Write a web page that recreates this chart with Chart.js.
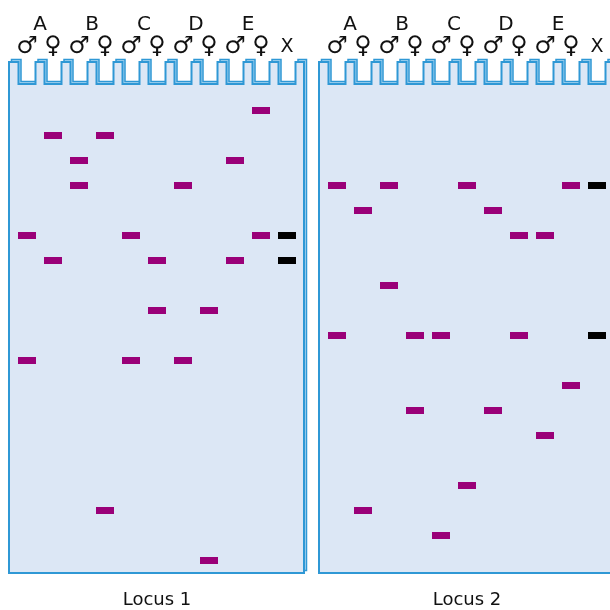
<!DOCTYPE html>
<html>
<head>
<meta charset="utf-8">
<script src="https://cdn.jsdelivr.net/npm/chart.js@4"></script>
<style>
    html, body { margin: 0; padding: 0; background: #fff; width: 610px; height: 610px; overflow: hidden; }
    canvas { position: absolute; top: 0; }
    #locus1 { left: 0; }
    #locus2 { left: 310px; }
</style>
</head>
<body>
<canvas id="locus1" width="310" height="610"></canvas>
<canvas id="locus2" width="310" height="610"></canvas>
<script>
// Lane labels (11 lanes: A-E male/female + marker X)
const laneSymbols = ['♂', '♀', '♂', '♀', '♂', '♀', '♂', '♀', '♂', '♀', 'X'];
const familyLetters = ['A', 'B', 'C', 'D', 'E'];

// Locus 1 bands: lane number and band row (0 = top of gel)
const locus1Lanes = [10, 2, 4, 3, 9, 3, 7, 1, 5, 10, 2, 6, 9, 6, 8, 1, 5, 7, 4, 8];
const locus1Rows  = [1, 2, 2, 3, 3, 4, 4, 6, 6, 6, 7, 7, 7, 9, 9, 11, 11, 11, 17, 19];
const locus1MarkerRows = [6, 7];

// Locus 2 bands
const locus2Lanes = [1, 3, 6, 10, 2, 7, 8, 9, 3, 1, 4, 5, 8, 10, 4, 7, 9, 6, 2, 5];
const locus2Rows  = [4, 4, 4, 4, 5, 5, 6, 6, 8, 10, 10, 10, 10, 12, 13, 13, 14, 16, 17, 18];
const locus2MarkerRows = [4, 10];

const markerLane = 11;

// Band shape used as point style
function bandImage(color) {
    const c = document.createElement('canvas');
    c.width = 18;
    c.height = 7;
    const g = c.getContext('2d');
    g.fillStyle = color;
    g.fillRect(0, 0, 18, 7);
    return c;
}

const purpleBand = bandImage('#9a0078');
const blackBand = bandImage('#000000');

// Gel outline with comb wells, drawn behind the bands
function gelPath(ctx, xs, ys, dx, dy) {
    const y0 = ys.getPixelForValue(0);
    const top = y0 - 23 + dy;
    const wellBottom = y0 - 1 + dy;
    const bottom = ys.getPixelForValue(19) + 13 + dy;
    const left = xs.getPixelForValue(1) - 18 + dx;
    const right = xs.getPixelForValue(11) + 17 + dx;
    ctx.beginPath();
    ctx.moveTo(left, bottom);
    ctx.lineTo(left, top);
    for (let lane = 1; lane <= 11; lane++) {
        const cx = xs.getPixelForValue(lane) + dx;
        ctx.lineTo(cx - 8.5, top);
        ctx.lineTo(cx - 8.5, wellBottom);
        ctx.lineTo(cx + 8.5, wellBottom);
        ctx.lineTo(cx + 8.5, top);
    }
    ctx.lineTo(right, top);
    ctx.lineTo(right, bottom);
    ctx.closePath();
}

const gelPlugin = {
    id: 'gel',
    beforeDatasetsDraw(chart) {
        const ctx = chart.ctx;
        const xs = chart.scales.x;
        const ys = chart.scales.y;
        ctx.save();
        ctx.lineJoin = 'miter';
        // back face for the 3D look
        gelPath(ctx, xs, ys, 2.5, -2.5);
        ctx.fillStyle = '#b3daf2';
        ctx.fill();
        ctx.strokeStyle = '#2f98d5';
        ctx.lineWidth = 1.5;
        ctx.stroke();
        // front face
        gelPath(ctx, xs, ys, 0, 0);
        ctx.fillStyle = '#dce7f5';
        ctx.fill();
        ctx.strokeStyle = '#2f98d5';
        ctx.lineWidth = 2;
        ctx.stroke();
        ctx.restore();
    },
    afterDraw(chart) {
        const ctx = chart.ctx;
        const xs = chart.scales.x;
        const ys = chart.scales.y;
        const y0 = ys.getPixelForValue(0);
        ctx.save();
        ctx.fillStyle = '#111';
        ctx.textAlign = 'center';
        ctx.textBaseline = 'middle';
        ctx.font = '20px "DejaVu Sans"';
        familyLetters.forEach((letter, i) => {
            ctx.fillText(letter, xs.getPixelForValue(2 * i + 1.5), y0 - 60);
        });
        laneSymbols.forEach((sym, i) => {
            ctx.font = sym === 'X' ? '19px "DejaVu Sans"' : '24px "DejaVu Sans"';
            ctx.fillText(sym, xs.getPixelForValue(i + 1), y0 - 38);
        });
        ctx.font = '18px "DejaVu Sans"';
        ctx.fillText(chart.options.plugins.gel.title, xs.getPixelForValue(6), ys.getPixelForValue(19) + 40);
        ctx.restore();
    }
};

function makeGel(canvasId, title, lanes, rows, markerRows) {
    const ctx = document.getElementById(canvasId).getContext('2d');
    new Chart(ctx, {
        type: 'scatter',
        data: {
            datasets: [
                {
                    label: 'Bands',
                    data: lanes.map((lane, i) => ({ x: lane, y: rows[i] })),
                    pointStyle: purpleBand
                },
                {
                    label: 'Marker',
                    data: markerRows.map(row => ({ x: markerLane, y: row })),
                    pointStyle: blackBand
                }
            ]
        },
        options: {
            responsive: false,
            animation: false,
            events: [],
            layout: {
                padding: { left: 14, right: 10, top: 60, bottom: 25 }
            },
            scales: {
                x: { type: 'linear', min: 0.5, max: 11.5, display: false },
                y: { type: 'linear', min: -1, max: 20, reverse: true, display: false }
            },
            plugins: {
                legend: { display: false },
                tooltip: { enabled: false },
                gel: { title: title }
            }
        },
        plugins: [gelPlugin]
    });
}

makeGel('locus1', 'Locus 1', locus1Lanes, locus1Rows, locus1MarkerRows);
makeGel('locus2', 'Locus 2', locus2Lanes, locus2Rows, locus2MarkerRows);
</script>
</body>
</html>
